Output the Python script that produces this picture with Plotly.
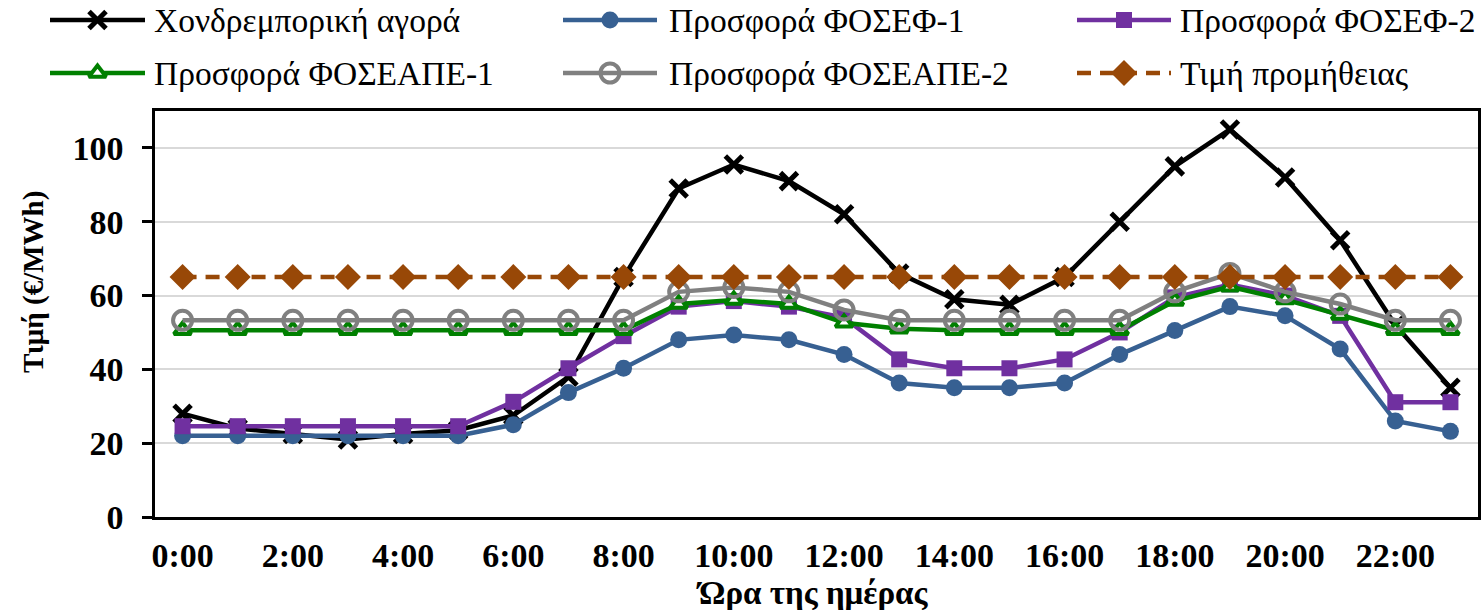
import plotly.graph_objects as go

# Hourly categories and labelled ticks
hours = ["0:00", "1:00", "2:00", "3:00", "4:00", "5:00", "6:00", "7:00",
         "8:00", "9:00", "10:00", "11:00", "12:00", "13:00", "14:00", "15:00",
         "16:00", "17:00", "18:00", "19:00", "20:00", "21:00", "22:00", "23:00"]
tick_hours = ["0:00", "2:00", "4:00", "6:00", "8:00", "10:00",
              "12:00", "14:00", "16:00", "18:00", "20:00", "22:00"]
y_ticks = [0, 20, 40, 60, 80, 100]

# Prices in €/MWh
wholesale = [28, 24, 22.5, 21, 22.5, 23.5, 27.5, 38, 65, 89, 95.5, 91,
             82, 66, 59, 57.5, 65, 80, 95, 105, 92, 75, 52, 35]
fosef_1 = [22, 22, 22, 22, 22, 22, 25, 33.7, 40.3, 48, 49.3, 48,
           44, 36.3, 35, 35, 36.3, 44, 50.5, 57, 54.5, 45.5, 26, 23.2]
fosef_2 = [24.6, 24.6, 24.6, 24.6, 24.6, 24.6, 31.2, 40.3, 49, 57, 58.5, 57,
           54, 42.7, 40.3, 40.3, 42.7, 50, 59.5, 63, 60, 54.5, 31.1, 31.1]
foseape_1 = [50.6, 50.6, 50.6, 50.6, 50.6, 50.6, 50.6, 50.6, 50.6, 57.7, 58.8, 57.7,
             52.6, 51, 50.6, 50.6, 50.6, 50.6, 58.5, 62.4, 58.9, 54.7, 50.6, 50.6]
foseape_2 = [53.3, 53.3, 53.3, 53.3, 53.3, 53.3, 53.3, 53.3, 53.3, 61, 62.2, 61,
             56.1, 53.3, 53.3, 53.3, 53.3, 53.3, 61, 66, 61, 57.7, 53.3, 53.3]
supply_price = [65, 65, 65, 65, 65, 65, 65, 65, 65, 65, 65, 65,
                65, 65, 65, 65, 65, 65, 65, 65, 65, 65, 65, 65]

series = [
    dict(name="Χονδρεμπορική αγορά", y=wholesale, color="#000000", width=4.5, dash="solid",
         symbol="x-thin", size=17, fill="#000000", mline=5),
    dict(name="Προσφορά ΦΟΣΕΦ-1", y=fosef_1, color="#376092", width=4.5, dash="solid",
         symbol="circle", size=17, fill="#376092", mline=0),
    dict(name="Προσφορά ΦΟΣΕΦ-2", y=fosef_2, color="#7030A0", width=4.5, dash="solid",
         symbol="square", size=16, fill="#7030A0", mline=0),
    dict(name="Προσφορά ΦΟΣΕΑΠΕ-1", y=foseape_1, color="#008000", width=4.5, dash="solid",
         symbol="triangle-up", size=15, fill="#FFFFFF", mline=4),
    dict(name="Προσφορά ΦΟΣΕΑΠΕ-2", y=foseape_2, color="#808080", width=4.5, dash="solid",
         symbol="circle-open", size=19, fill="#808080", mline=4),
    dict(name="Τιμή προμήθειας", y=supply_price, color="#984807", width=4.5, dash="14px,9px",
         symbol="diamond", size=20, fill="#984807", mline=0),
]

W, H = 1483, 610
MR = 5
PW = W - MR                      # paper width in px
plot_left, plot_top, plot_bottom = 155, 111, 517

serif = "Liberation Serif, Times New Roman, serif"

fig = go.Figure()


def marker_style(s):
    return dict(symbol=s["symbol"], size=s["size"], color=s["fill"],
                line=dict(color=s["color"], width=s["mline"]))


for s in series:
    fig.add_trace(go.Scatter(
        x=hours, y=s["y"], name=s["name"], mode="lines+markers",
        line=dict(color=s["color"], width=s["width"], dash=s["dash"]),
        marker=marker_style(s), showlegend=False,
    ))

# Legend drawn on a pixel-scaled overlay axis: two rows of three entries
legend_rows = [20, 73]
legend_line_x = [(50, 145), (563, 657), (1077, 1171)]
legend_text_x = [152, 667, 1178]

for i, s in enumerate(series):
    row, col = divmod(i, 3)
    ly = legend_rows[row]
    x0, x1 = legend_line_x[col]
    fig.add_trace(go.Scatter(
        x=[x0, x1], y=[ly, ly], xaxis="x2", yaxis="y2", mode="lines",
        line=dict(color=s["color"], width=s["width"], dash=s["dash"]),
        hoverinfo="skip", showlegend=False,
    ))
    fig.add_trace(go.Scatter(
        x=[(x0 + x1) / 2], y=[ly], xaxis="x2", yaxis="y2", mode="markers",
        marker=marker_style(s), hoverinfo="skip", showlegend=False,
    ))
    fig.add_annotation(
        x=legend_text_x[col], y=ly, xref="x2", yref="y2", text=s["name"],
        xanchor="left", yanchor="middle", showarrow=False,
        font=dict(family=serif, size=33.5, color="#000000"),
    )

# Axis titles
fig.add_annotation(x=33, y=282, xref="x2", yref="y2", text="Τιμή (€/MWh)",
                   textangle=-90, showarrow=False, xanchor="center", yanchor="middle",
                   font=dict(family=serif, size=29, color="#000000", weight="bold"))
fig.add_annotation(x=812, y=593, xref="x2", yref="y2", text="Ώρα της ημέρας",
                   showarrow=False, xanchor="center", yanchor="middle",
                   font=dict(family=serif, size=33, color="#000000", weight="bold"))

tick_font = dict(family=serif, size=34, color="#000000", weight="bold")

fig.update_layout(
    template="none",
    width=W, height=H,
    margin=dict(l=0, r=MR, t=0, b=0, pad=0),
    paper_bgcolor="#FFFFFF", plot_bgcolor="rgba(0,0,0,0)",
    showlegend=False,
    xaxis=dict(
        domain=[plot_left / PW, 1.0], anchor="y",
        type="category", categoryorder="array", categoryarray=hours,
        range=[-0.5, 23.5], tickmode="array", tickvals=tick_hours,
        ticks="", showgrid=False, zeroline=False,
        showline=True, mirror=True, linecolor="#000000", linewidth=2.5,
        tickfont=tick_font, ticklabelstandoff=6, automargin=False,
    ),
    yaxis=dict(
        domain=[1 - plot_bottom / H, 1 - plot_top / H], anchor="x",
        range=[0, 110], tickmode="array", tickvals=y_ticks,
        ticks="outside", ticklen=10, tickwidth=2.5, tickcolor="#000000",
        showgrid=True, gridcolor="#D9D9D9", gridwidth=1.5, zeroline=False,
        showline=True, mirror=True, linecolor="#000000", linewidth=2.5,
        tickfont=tick_font, ticklabelstandoff=12, automargin=False,
    ),
    xaxis2=dict(domain=[0, 1], anchor="y2", range=[0, PW], visible=False, fixedrange=True),
    yaxis2=dict(domain=[0, 1], anchor="x2", range=[H, 0], visible=False, fixedrange=True),
)

fig.write_html("out.html")
